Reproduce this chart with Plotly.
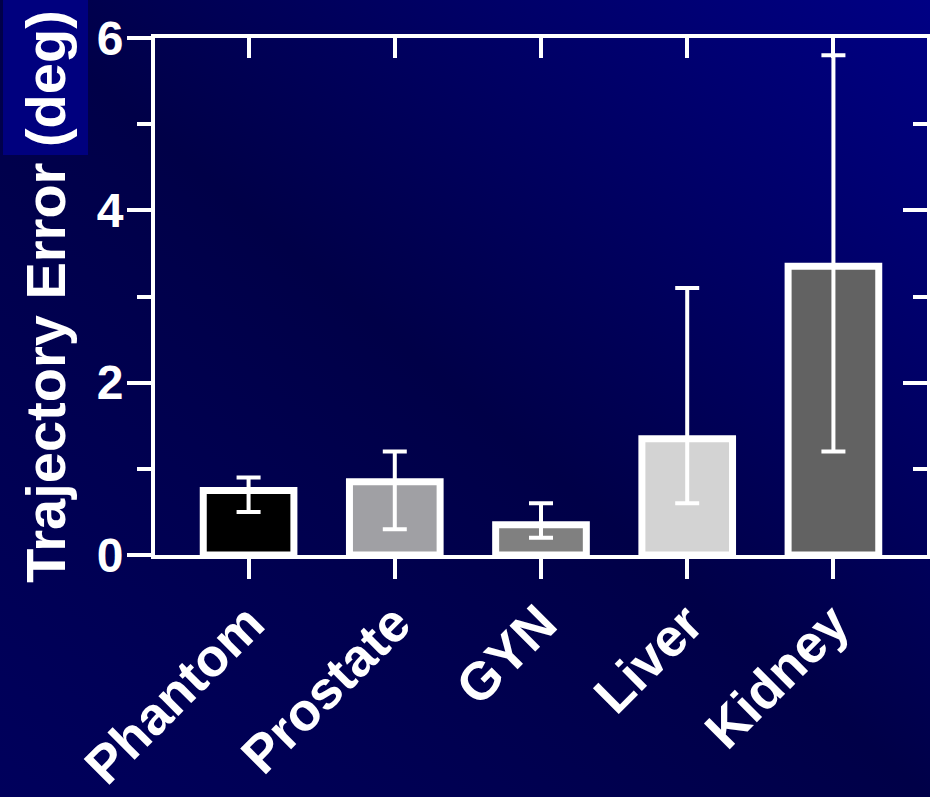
import base64
import plotly.graph_objects as go

# ---- data ----
categories = ["Phantom", "Prostate", "GYN", "Liver", "Kidney"]
mean_err = [0.75, 0.85, 0.35, 1.35, 3.35]
err_low = [0.5, 0.3, 0.2, 0.6, 1.2]
err_high = [0.9, 1.2, 0.6, 3.1, 5.8]
bar_colors = ["#000000", "#a0a0a4", "#808080", "#d3d3d3", "#626262"]
y_title = "Trajectory Error (deg)"

W, H = 930, 797
ML, MR, MT, MB = 155, 3, 38, 242
PW, PH = W - ML - MR, H - MT - MB

plus = [h - m for h, m in zip(err_high, mean_err)]
minus = [m - l for m, l in zip(mean_err, err_low)]

svg = f"""<svg xmlns='http://www.w3.org/2000/svg' width='{W}' height='{H}' preserveAspectRatio='none'>
<defs><linearGradient id='g' x1='1' y1='0' x2='0' y2='1'>
<stop offset='0' stop-color='#000084'/>
<stop offset='0.5' stop-color='#000048'/>
<stop offset='1' stop-color='#00005c'/>
</linearGradient></defs>
<rect width='{W}' height='{H}' fill='url(#g)'/>
<rect x='3' y='0' width='85' height='155' fill='#00007e'/>
</svg>"""
src = "data:image/svg+xml;base64," + base64.b64encode(svg.encode()).decode()

font_b = dict(family="Liberation Sans, Arial", color="white", weight="bold")

fig = go.Figure()
fig.add_trace(go.Bar(
    x=categories, y=mean_err, width=0.62,
    marker=dict(color=bar_colors, line=dict(color="white", width=7)),
    error_y=dict(type="data", symmetric=False, array=plus, arrayminus=minus,
                 color="white", thickness=4, width=12),
    hoverinfo="skip", showlegend=False,
))
# invisible trace to carry the mirrored (inward-tick) top/right axes
fig.add_trace(go.Scatter(
    x=categories, y=mean_err, xaxis="x2", yaxis="y2", mode="markers",
    marker=dict(opacity=0), hoverinfo="skip", showlegend=False,
))

xr = [-0.64, 4.64]
fig.update_layout(
    width=W, height=H,
    margin=dict(l=ML, r=MR, t=MT, b=MB, pad=0, autoexpand=False),
    paper_bgcolor="#00004c", plot_bgcolor="rgba(0,0,0,0)",
    images=[dict(source=src, xref="paper", yref="paper",
                 x=-ML / PW, y=1 + MT / PH, sizex=W / PW, sizey=H / PH,
                 xanchor="left", yanchor="top", sizing="stretch", layer="below")],
    xaxis=dict(type="category", range=xr, showline=True, linecolor="white", linewidth=4,
               ticks="outside", ticklen=20, tickwidth=4, tickcolor="white",
               tickangle=-45, tickfont=dict(size=53, **font_b), showgrid=False,
               ticklabelstandoff=-8,
               zeroline=False, automargin=False),
    yaxis=dict(range=[0, 6], dtick=2, showline=True, linecolor="white", linewidth=4,
               ticks="outside", ticklen=24, tickwidth=4, tickcolor="white",
               minor=dict(dtick=1, ticks="outside", ticklen=14, tickwidth=4, tickcolor="white"),
               tickfont=dict(size=48, **font_b), showgrid=False, zeroline=False,
               ticklabelstandoff=-6, automargin=False,
               title=dict(text=y_title, font=dict(size=56, **font_b), standoff=14)),
    xaxis2=dict(type="category", range=xr, overlaying="x", side="top", anchor="y",
                showline=True, linecolor="white", linewidth=4,
                ticks="inside", ticklen=20, tickwidth=4, tickcolor="white",
                showticklabels=False, showgrid=False, zeroline=False, automargin=False),
    yaxis2=dict(range=[0, 6], dtick=2, overlaying="y", side="right", anchor="x",
                showline=True, linecolor="white", linewidth=4,
                ticks="inside", ticklen=24, tickwidth=4, tickcolor="white",
                minor=dict(dtick=1, ticks="inside", ticklen=14, tickwidth=4, tickcolor="white"),
                showticklabels=False, showgrid=False, zeroline=False, automargin=False),
)

fig.write_html("out.html", config={"displayModeBar": False},
               post_script="document.body.style.margin='0';document.body.style.overflow='hidden';")
